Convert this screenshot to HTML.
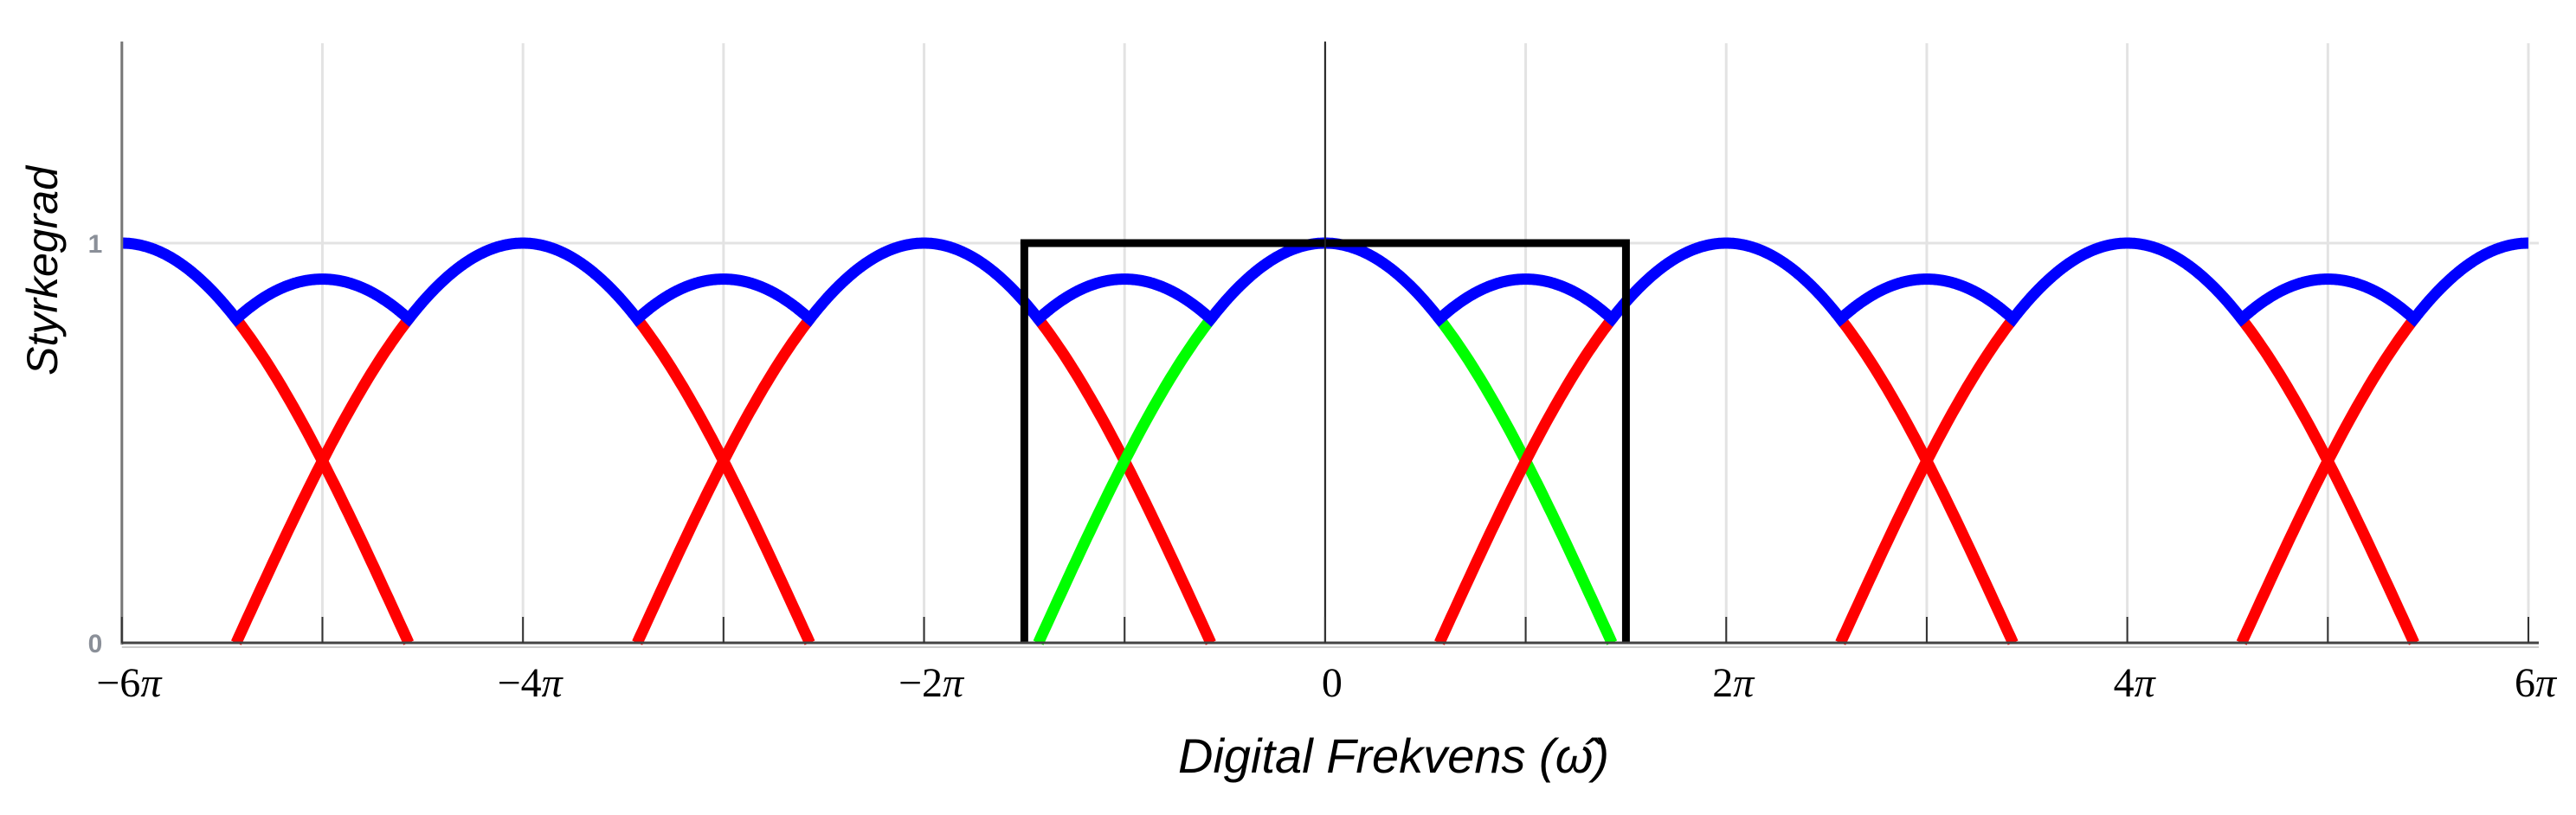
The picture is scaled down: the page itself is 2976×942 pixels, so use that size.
<!DOCTYPE html>
<html><head><meta charset="utf-8"><style>
html,body{margin:0;padding:0;background:#fff;}
svg{display:block;}
</style></head><body>
<svg id="chart" width="2976" height="942" viewBox="0 0 2976 942" xmlns="http://www.w3.org/2000/svg">
<g id="grid"></g>
<g id="curves"></g>
<g id="axes"></g>
<text transform="translate(66,313) rotate(-90)" text-anchor="middle" font-family="Liberation Sans, sans-serif" font-style="italic" font-size="50" fill="#000">Styrkegrad</text>
<text x="1610" y="893" text-anchor="middle" font-family="Liberation Sans, sans-serif" font-style="italic" font-size="56" fill="#000">Digital Frekvens (ω̂)</text>
</svg>
<script>
// data (x in units of π)
const tickValues = [-6,-5,-4,-3,-2,-1,0,1,2,3,4,5,6];
const tickLabels = ["−6","","−4","","−2","","0","","2","","4","","6"];
const yTicks = [0,1];
const yTickLabels = ["0","1"];
const lobeCenters = [-6,-4,-2,0,2,4,6];
const lobeColors = ["red","red","red","lime","red","red","red"];
const humpCenters = [-5,-3,-1,1,3,5];
const lobeHalfWidth = [1.43];
const dipOffset = [0.57];
const humpPeak = [0.91];
const boxEdges = [-1.5,1.5];
const boxHeight = [1.0];

const NS="http://www.w3.org/2000/svg";
const X0=140.8, X1=2921, XMIN=-6, XMAX=6, Y0=743, Y1=281;
const xs=v=>X0+(v-XMIN)/(XMAX-XMIN)*(X1-X0);
const ys=v=>Y0-(v)*(Y0-Y1);
function mk(tag,attrs,parent){const e=document.createElementNS(NS,tag);for(const k in attrs)e.setAttribute(k,attrs[k]);parent.appendChild(e);return e;}
const grid=document.getElementById('grid'),curves=document.getElementById('curves'),axes=document.getElementById('axes');
const W=lobeHalfWidth[0], D=dipOffset[0], H=humpPeak[0];
const lobe=u=>Math.max(0,Math.cos(Math.PI/2*u/W));
const dipVal=lobe(D);
const aH=Math.acos(dipVal/H)/(1-D);
const hump=v=>H*Math.cos(aH*v);

tickValues.forEach(t=>{
  const l=mk('line',{x1:xs(t),x2:xs(t),y1:50,y2:Y0,stroke:'#e3e3e3','stroke-width':3},grid);
  
  
});
const hg=mk('line',{x1:X0,x2:2933,y1:ys(1),y2:ys(1),stroke:'#e3e3e3','stroke-width':3},grid);



lobeCenters.forEach((c,i)=>{
  [-1,1].forEach(s=>{
    let pts=[];
    for(let k=0;k<=60;k++){const u=D+(W-D)*k/60;const x=c+s*u;if(x<XMIN-1e-9||x>XMAX+1e-9)continue;pts.push(xs(x).toFixed(1)+','+ys(lobe(u)).toFixed(1));}
    if(pts.length<2)return;
    const p=mk('polyline',{points:pts.join(' '),fill:'none',stroke:lobeColors[i],'stroke-width':13,'stroke-linecap':'butt'},curves);
    
    
  });
});
let bp=[];
for(let k=0;k<=2400;k++){
  const x=XMIN+(XMAX-XMIN)*k/2400;
  const n=Math.round(x/2)*2; const u=Math.abs(x-n);
  let y;
  if(u<=D) y=lobe(u); else { const m=Math.floor(x/2)*2+1; y=hump(Math.abs(x-m)); }
  bp.push(xs(x).toFixed(1)+','+ys(y).toFixed(1));
}
const blue=mk('polyline',{points:bp.join(' '),fill:'none',stroke:'blue','stroke-width':13,'stroke-linejoin':'miter'},curves);



const box=mk('polyline',{points:`${xs(boxEdges[0])},${Y0} ${xs(boxEdges[0])},${ys(boxHeight[0])} ${xs(boxEdges[1])},${ys(boxHeight[0])} ${xs(boxEdges[1])},${Y0}`,fill:'none',stroke:'#000','stroke-width':9},curves);



const ya=mk('line',{x1:X0,x2:X0,y1:48,y2:Y0+2,stroke:'#777','stroke-width':3},axes);


const za=mk('line',{x1:xs(0),x2:xs(0),y1:48,y2:Y0,stroke:'#222','stroke-width':2},axes);


const xa=mk('line',{x1:X0,x2:2933,y1:Y0,y2:Y0,stroke:'#444','stroke-width':3},axes);


const xa2=mk('line',{x1:X0,x2:2933,y1:Y0+5,y2:Y0+5,stroke:'#ccc','stroke-width':2},axes);


tickValues.forEach((t,i)=>{
  const tk=mk('line',{x1:xs(t),x2:xs(t),y1:Y0-30,y2:Y0,stroke:'#333','stroke-width':2},axes);
  
  
  if(tickLabels[i]){
    const tx=mk('text',{x:xs(t)+8,y:805,'text-anchor':'middle','font-family':'Liberation Serif, serif','font-size':48,fill:'#000'},axes);
    
    
    tx.appendChild(document.createTextNode(tickLabels[i]));
    if(t!==0){
      const sp=mk('tspan',{'font-style':'italic'},tx);
      sp.textContent='π';
    }
  }
});
yTicks.forEach((v,i)=>{
  const tx=mk('text',{x:110,y:ys(v)+11,'text-anchor':'middle','font-family':'Liberation Sans, sans-serif','font-weight':'bold','font-size':30,fill:'#8a8f98'},axes);
  tx.textContent=yTickLabels[i];
  
  
});
</script>
</body></html>
